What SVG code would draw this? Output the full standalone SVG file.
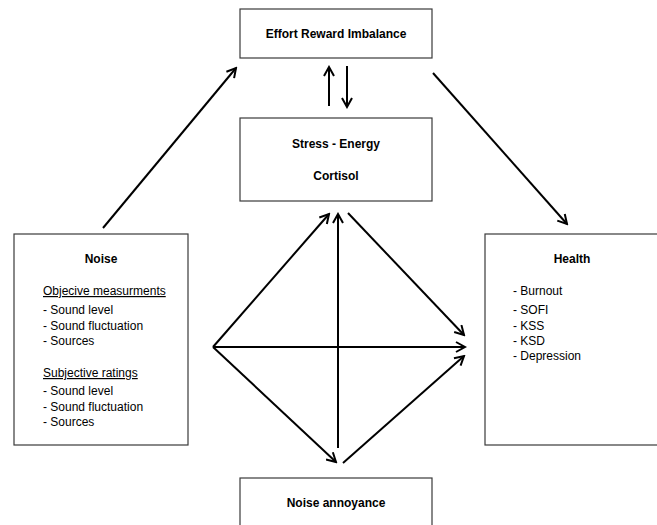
<svg xmlns="http://www.w3.org/2000/svg" width="657" height="525" viewBox="0 0 657 525">
<style>
.box{fill:#fff;stroke:#3a3a3a;stroke-width:1.2}
.t{font-family:"Liberation Sans",Arial,sans-serif;font-size:12px;fill:#000}
.b{font-weight:bold}
.m{text-anchor:middle}
.c{stroke:#000;stroke-width:2;fill:none;marker-end:url(#ah)}
</style>
<defs>
<marker id="ah" markerWidth="12" markerHeight="12" refX="10" refY="6" orient="auto" markerUnits="userSpaceOnUse">
<path d="M1,1 L10,6 L1,11" fill="none" stroke="#000" stroke-width="2"/>
</marker>
</defs>
<rect width="657" height="525" fill="#fff"/>
<g id="effort">
<rect class="box" x="240" y="9" width="192" height="49"/>
<text class="t b m" x="336" y="38">Effort Reward Imbalance</text>
</g>
<g id="stress">
<rect class="box" x="240" y="118" width="192" height="83"/>
<text class="t b m" x="336" y="148">Stress - Energy</text>
<text class="t b m" x="336" y="180">Cortisol</text>
</g>
<g id="noise">
<rect class="box" x="14" y="234" width="174" height="211"/>
<text class="t b m" x="101" y="263">Noise</text>
<text class="t" x="43" y="295" text-decoration="underline">Objecive measurments</text>
<text class="t" x="43" y="314">- Sound level</text>
<text class="t" x="43" y="330">- Sound fluctuation</text>
<text class="t" x="43" y="345">- Sources</text>
<text class="t" x="43" y="377" text-decoration="underline">Subjective ratings</text>
<text class="t" x="43" y="395">- Sound level</text>
<text class="t" x="43" y="411">- Sound fluctuation</text>
<text class="t" x="43" y="426">- Sources</text>
</g>
<g id="health">
<rect class="box" x="485" y="234" width="180" height="211"/>
<text class="t b m" x="572" y="263">Health</text>
<text class="t" x="513" y="295">- Burnout</text>
<text class="t" x="513" y="314">- SOFI</text>
<text class="t" x="513" y="330">- KSS</text>
<text class="t" x="513" y="345">- KSD</text>
<text class="t" x="513" y="360">- Depression</text>
</g>
<g id="annoyance">
<rect class="box" x="240" y="478" width="192" height="60"/>
<text class="t b m" x="336" y="507">Noise annoyance</text>
</g>
<g id="connectors">
<line class="c" x1="329" y1="106" x2="329" y2="67"/>
<line class="c" x1="347" y1="66" x2="347" y2="107"/>
<line class="c" x1="103" y1="228" x2="236" y2="68"/>
<line class="c" x1="433" y1="73" x2="567" y2="224"/>
<line class="c" x1="213" y1="347" x2="329" y2="214"/>
<line class="c" x1="338" y1="448" x2="338" y2="214"/>
<line class="c" x1="348" y1="213" x2="464" y2="335"/>
<line class="c" x1="213" y1="347" x2="465" y2="347"/>
<line class="c" x1="213" y1="347" x2="336" y2="462"/>
<line class="c" x1="343" y1="463" x2="464" y2="356"/>
</g>
</svg>
